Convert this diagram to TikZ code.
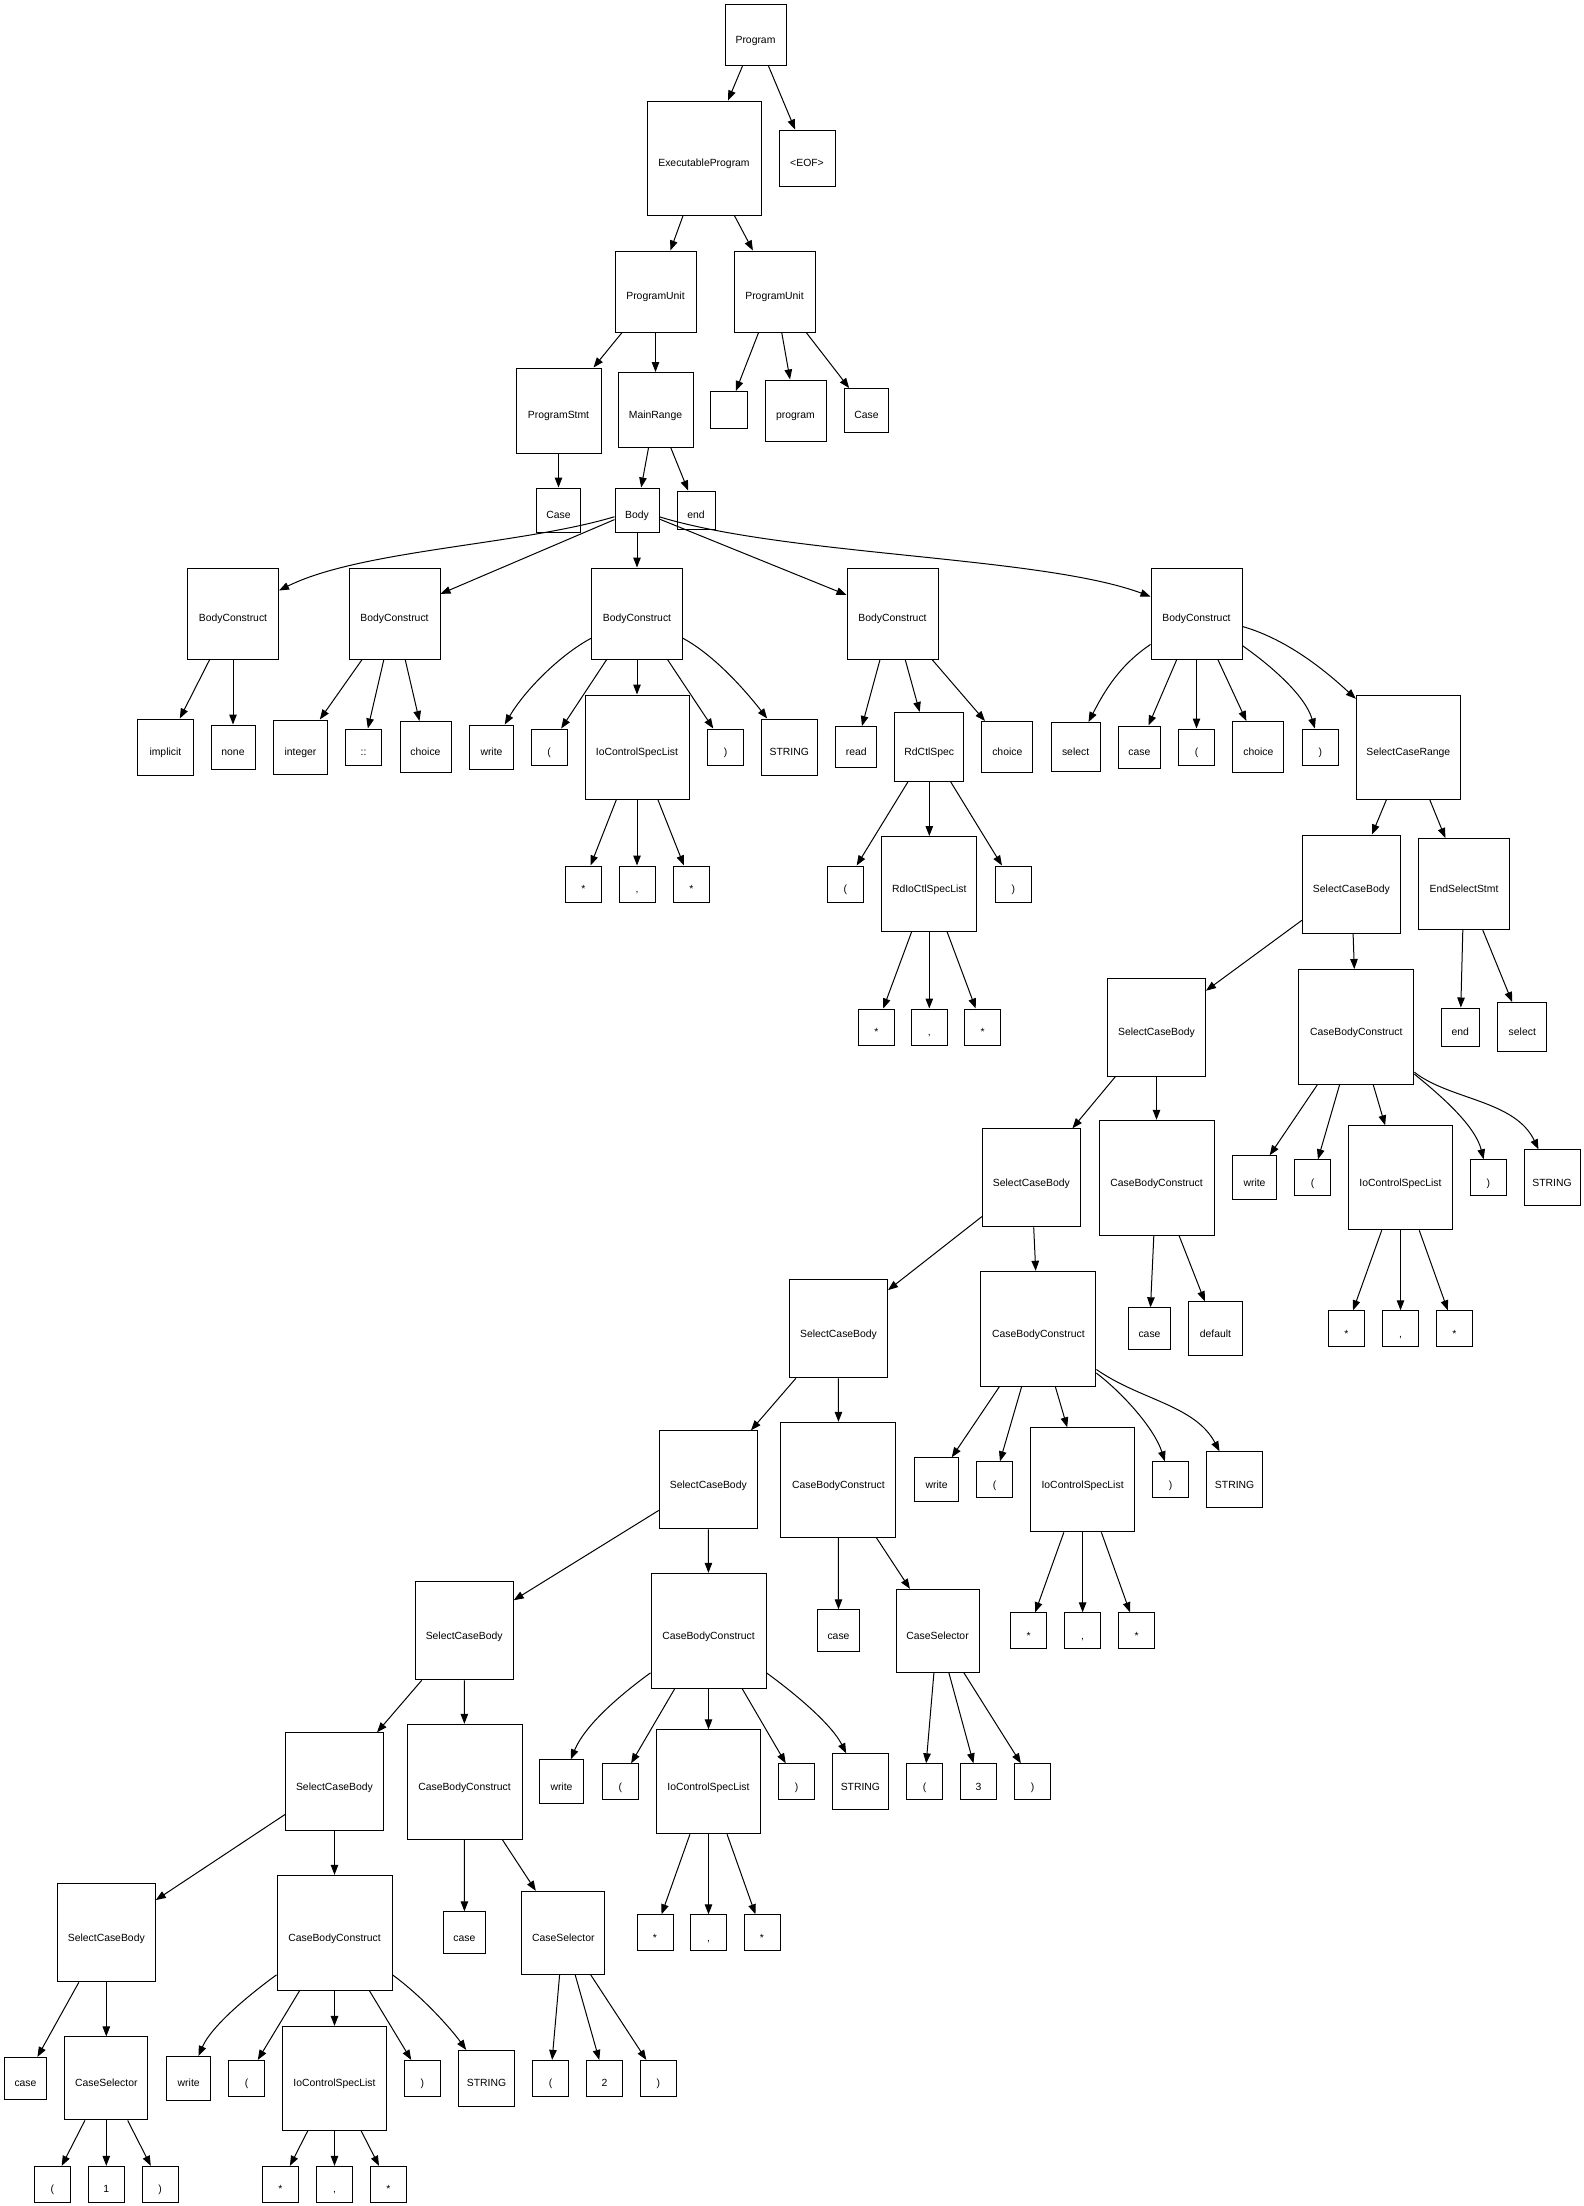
\documentclass[tikz,border=0pt]{standalone}
\usepackage{fontspec}
\setmainfont{Liberation Sans}
\usetikzlibrary{arrows.meta}
\tikzset{
  tn/.style={draw=black, line width=1pt, inner sep=0pt, minimum size=#1, text height=16.6pt, text depth=0pt, font=\fontsize{10.4}{12}\selectfont},
  arr/.style={draw=black, line width=1pt, -{Triangle[length=10pt,width=7.5pt]}}
}
\begin{document}
\begin{tikzpicture}[x=1pt,y=-1pt]
\useasboundingbox (0,0) rectangle (1584,2206);
% Row 1-5
\node[tn=61] (prog) at (755.5,35) {Program};
\node[tn=114] (exe) at (704,158) {ExecutableProgram};
\node[tn=56] (eof) at (807,158) {<EOF>};
\node[tn=81] (pua) at (655.5,291.5) {ProgramUnit};
\node[tn=81] (pub) at (774.5,291.5) {ProgramUnit};
\node[tn=85] (pst) at (558.5,410.5) {ProgramStmt};
\node[tn=75] (mr) at (655.5,410) {MainRange};
\node[tn=37] (emp) at (728.5,410) {};
\node[tn=61] (pkw) at (795.5,410.5) {program};
\node[tn=44] (casea) at (866.5,410.5) {Case};
\node[tn=44] (caseb) at (558.5,510) {Case};
\node[tn=44] (body) at (637,510) {Body};
\node[tn=38] (enda) at (696,510) {end};
% Row 6
\node[tn=91] (bca) at (233,613.5) {BodyConstruct};
\node[tn=91] (bcb) at (394.5,613.5) {BodyConstruct};
\node[tn=91] (bcc) at (637,613.5) {BodyConstruct};
\node[tn=91] (bcd) at (892.5,613.5) {BodyConstruct};
\node[tn=91] (bce) at (1196.5,613.5) {BodyConstruct};
% Row 7
\node[tn=56] (impl) at (165.4,747) {implicit};
\node[tn=44] (none) at (233,747) {none};
\node[tn=54] (intg) at (300.5,747) {integer};
\node[tn=36] (dcol) at (363.6,747) {::};
\node[tn=51] (choa) at (425.5,747) {choice};
\node[tn=44] (wra) at (491.5,747) {write};
\node[tn=36] (lpa) at (549,747) {(};
\node[tn=104] (ioa) at (637,747) {IoControlSpecList};
\node[tn=36] (rpa) at (725.5,747) {)};
\node[tn=56] (stra) at (789.3,747) {STRING};
\node[tn=41] (read) at (856.3,747) {read};
\node[tn=69] (rdc) at (929.3,747) {RdCtlSpec};
\node[tn=51] (chob) at (1007.3,747) {choice};
\node[tn=49] (sel) at (1075.6,747) {select};
\node[tn=42] (casec) at (1139.3,747) {case};
\node[tn=36] (lpb) at (1196.5,747) {(};
\node[tn=51] (choc) at (1258.4,747) {choice};
\node[tn=36] (rpb) at (1320.3,747) {)};
\node[tn=104] (scr) at (1408.3,747) {SelectCaseRange};
% Row 8
\node[tn=36] (sta1) at (583.3,884) {*};
\node[tn=36] (cma) at (637,884) {,};
\node[tn=36] (sta2) at (691.3,884) {*};
\node[tn=36] (lpc) at (845.3,884) {(};
\node[tn=95] (rdl) at (929.3,884) {RdIoCtlSpecList};
\node[tn=36] (rpc) at (1013.3,884) {)};
\node[tn=98] (scb1) at (1351.4,884) {SelectCaseBody};
\node[tn=91] (ess) at (1464,884) {EndSelectStmt};
% Row 9
\node[tn=36] (stb1) at (876.4,1027) {*};
\node[tn=36] (cmb) at (929.3,1027) {,};
\node[tn=36] (stb2) at (982.6,1027) {*};
\node[tn=98] (scb2) at (1156.5,1027) {SelectCaseBody};
\node[tn=115] (cbc1) at (1356.3,1027) {CaseBodyConstruct};
\node[tn=38] (endb) at (1460.3,1027) {end};
\node[tn=49] (selb) at (1522.3,1027) {select};
% Row 10
\node[tn=98] (scb3) at (1031.4,1177.8) {SelectCaseBody};
\node[tn=115] (cbc2) at (1156.5,1177.8) {CaseBodyConstruct};
\node[tn=44] (wrb) at (1254.5,1177.8) {write};
\node[tn=36] (lpd) at (1312.6,1177.8) {(};
\node[tn=104] (iob) at (1400.5,1177.8) {IoControlSpecList};
\node[tn=36] (rpd) at (1488.3,1177.8) {)};
\node[tn=56] (strb) at (1552,1177.8) {STRING};
% Row 11
\node[tn=98] (scb4) at (838.5,1328.8) {SelectCaseBody};
\node[tn=115] (cbc3) at (1038.4,1328.8) {CaseBodyConstruct};
\node[tn=42] (cased) at (1149.5,1328.8) {case};
\node[tn=54] (dflt) at (1215.5,1328.8) {default};
\node[tn=36] (stc1) at (1346.4,1328.8) {*};
\node[tn=36] (cmc) at (1400.5,1328.8) {,};
\node[tn=36] (stc2) at (1454.4,1328.8) {*};
% Row 12
\node[tn=98] (scb5) at (708.3,1479.8) {SelectCaseBody};
\node[tn=115] (cbc4) at (838.4,1479.8) {CaseBodyConstruct};
\node[tn=44] (wrc) at (936.6,1479.8) {write};
\node[tn=36] (lpe) at (994.6,1479.8) {(};
\node[tn=104] (ioc) at (1082.6,1479.8) {IoControlSpecList};
\node[tn=36] (rpe) at (1170.6,1479.8) {)};
\node[tn=56] (strc) at (1234.6,1479.8) {STRING};
% Row 13
\node[tn=98] (scb6) at (464.2,1630.8) {SelectCaseBody};
\node[tn=115] (cbc5) at (708.5,1630.8) {CaseBodyConstruct};
\node[tn=42] (casee) at (838.5,1630.8) {case};
\node[tn=83] (csa) at (937.5,1630.8) {CaseSelector};
\node[tn=36] (std1) at (1028.6,1630.8) {*};
\node[tn=36] (cmd) at (1082.6,1630.8) {,};
\node[tn=36] (std2) at (1136.6,1630.8) {*};
% Row 14
\node[tn=98] (scb7) at (334.5,1781.8) {SelectCaseBody};
\node[tn=115] (cbc6) at (464.5,1781.8) {CaseBodyConstruct};
\node[tn=44] (wrd) at (561.5,1781.8) {write};
\node[tn=36] (lpf) at (620.3,1781.8) {(};
\node[tn=104] (iod) at (708.5,1781.8) {IoControlSpecList};
\node[tn=36] (rpf) at (796.5,1781.8) {)};
\node[tn=56] (strd) at (860.4,1781.8) {STRING};
\node[tn=36] (lpg) at (924.6,1781.8) {(};
\node[tn=36] (three) at (978.5,1781.8) {3};
\node[tn=36] (rpg) at (1032.5,1781.8) {)};
% Row 15
\node[tn=98] (scb8) at (106.3,1932.8) {SelectCaseBody};
\node[tn=115] (cbc7) at (334.5,1932.8) {CaseBodyConstruct};
\node[tn=42] (casef) at (464.4,1932.8) {case};
\node[tn=83] (csb) at (563.3,1932.8) {CaseSelector};
\node[tn=36] (ste1) at (655,1932.8) {*};
\node[tn=36] (cme) at (708.5,1932.8) {,};
\node[tn=36] (ste2) at (762,1932.8) {*};
% Row 16
\node[tn=42] (caseg) at (25.5,2078.4) {case};
\node[tn=83] (csc) at (106.3,2078.4) {CaseSelector};
\node[tn=44] (wre) at (188.7,2078.4) {write};
\node[tn=36] (lph) at (246.6,2078.4) {(};
\node[tn=104] (ioe) at (334.5,2078.4) {IoControlSpecList};
\node[tn=36] (rph) at (422.4,2078.4) {)};
\node[tn=56] (stre) at (486.5,2078.4) {STRING};
\node[tn=36] (lpi) at (550.5,2078.4) {(};
\node[tn=36] (two) at (604.5,2078.4) {2};
\node[tn=36] (rpi) at (658.4,2078.4) {)};
% Row 17
\node[tn=36] (lpj) at (52.3,2184.3) {(};
\node[tn=36] (one) at (106.3,2184.3) {1};
\node[tn=36] (rpj) at (160.2,2184.3) {)};
\node[tn=36] (stf1) at (280.5,2184.3) {*};
\node[tn=36] (cmf) at (334.5,2184.3) {,};
\node[tn=36] (stf2) at (388.4,2184.3) {*};

% Edges
\foreach \a/\b in {prog/exe, prog/eof, exe/pua, exe/pub, pua/pst, pua/mr,
  pub/emp, pub/pkw, pub/casea, pst/caseb, mr/body, mr/enda,
  body/bcb, body/bcc, body/bcd,
  bca/impl, bca/none, bcb/intg, bcb/dcol, bcb/choa,
  bcc/lpa, bcc/ioa, bcc/rpa, ioa/sta1, ioa/cma, ioa/sta2,
  bcd/read, bcd/rdc, bcd/chob, rdc/lpc, rdc/rdl, rdc/rpc,
  rdl/stb1, rdl/cmb, rdl/stb2,
  bce/casec, bce/lpb, bce/choc,
  scr/scb1, scr/ess, ess/endb, ess/selb,
  scb1/scb2, scb1/cbc1, cbc1/wrb, cbc1/lpd, cbc1/iob,
  iob/stc1, iob/cmc, iob/stc2,
  scb2/scb3, scb2/cbc2, cbc2/cased, cbc2/dflt,
  scb3/scb4, scb3/cbc3, cbc3/wrc, cbc3/lpe, cbc3/ioc,
  ioc/std1, ioc/cmd, ioc/std2,
  scb4/scb5, scb4/cbc4, cbc4/casee, cbc4/csa,
  csa/lpg, csa/three, csa/rpg,
  scb5/scb6, scb5/cbc5, cbc5/lpf, cbc5/iod, cbc5/rpf,
  iod/ste1, iod/cme, iod/ste2,
  scb6/scb7, scb6/cbc6, cbc6/casef, cbc6/csb,
  csb/lpi, csb/two, csb/rpi,
  scb7/scb8, scb7/cbc7, cbc7/lph, cbc7/ioe, cbc7/rph,
  ioe/stf1, ioe/cmf, ioe/stf2,
  scb8/caseg, scb8/csc, csc/lpj, csc/one, csc/rpj}
  \draw[arr] (\a) -- (\b);

% Curved edges
\draw[arr] (body) .. controls (520,545) and (360,550) .. (bca);
\draw[arr] (body) .. controls (788,556) and (1041,556) .. (bce);
\draw[arr] (bcc) .. controls (560,655) and (525,690) .. (wra);
\draw[arr] (bcc) .. controls (714,655) and (745,690) .. (stra);
\draw[arr] (bce) .. controls (1120,665) and (1105,690) .. (sel);
\draw[arr] (bce) .. controls (1270,665) and (1305,695) .. (rpb);
\draw[arr] (bce) .. controls (1290,640) and (1330,675) .. (scr);
\draw[arr] (cbc1) .. controls (1440,1095) and (1475,1125) .. (rpd);
\draw[arr] (cbc1) .. controls (1450,1100) and (1515,1100) .. (strb);
\draw[arr] (cbc3) .. controls (1125,1395) and (1155,1430) .. (rpe);
\draw[arr] (cbc3) .. controls (1140,1400) and (1195,1405) .. (strc);
\draw[arr] (cbc5) .. controls (620,1695) and (585,1725) .. (wrd);
\draw[arr] (cbc5) .. controls (797,1695) and (832,1725) .. (strd);
\draw[arr] (cbc7) .. controls (246,1997) and (211,2027) .. (wre);
\draw[arr] (cbc7) .. controls (423,1997) and (452,2030) .. (stre);
\end{tikzpicture}
\end{document}
